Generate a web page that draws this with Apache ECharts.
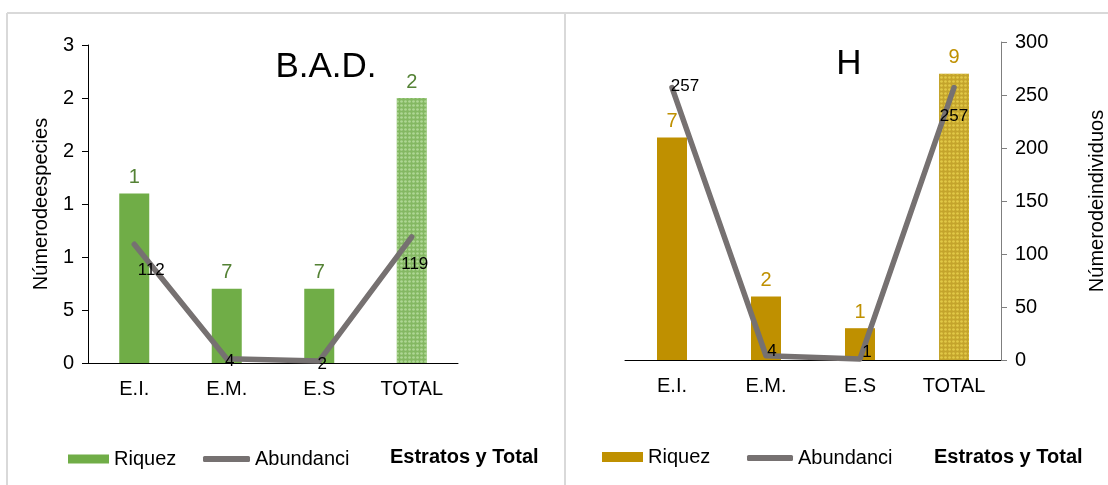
<!DOCTYPE html>
<html>
<head>
<meta charset="utf-8">
<script src="https://cdn.jsdelivr.net/npm/echarts@6/dist/echarts.min.js"></script>
<style>
html,body{margin:0;padding:0;background:#fff;}
#chart{width:1108px;height:485px;}
</style>
</head>
<body>
<div id="chart"></div>
<script>
// ---- data ----
const categories = ['E.I.', 'E.M.', 'E.S', 'TOTAL'];
const riquezaBAD = [16, 7, 7, 25];
const riquezaBADLabels = ['1', '7', '7', '2'];
const abundanciaBAD = [112, 4, 2, 119];
const riquezaH = [7, 2, 1, 9];
const riquezaHLabels = ['7', '2', '1', '9'];
const abundanciaH = [257, 4, 1, 257];
const ticksBAD = ['0', '5', '1', '1', '2', '2', '3'];
const titleBAD = 'B.A.D.';
const titleH = 'H';
const nameLeft = 'Númerodeespecies';
const nameRight = 'Númerodeindividuos';
const xName = 'Estratos y Total';

// ---- styles (kept separate from data) ----
const FONT = '"Liberation Sans", Arial, sans-serif';
const GREEN = '#70ad47', GREEN_LBL = '#548235';
const GOLD = '#bf9000', GOLD_LBL = '#bf9000';
const LINE = '#767171';
const offBAD = [[17, 26], [3, 3], [3, 3], [3, 27]];
const offH = [[13, -1], [6, -4], [7, -7], [0, 29]];

const totalDecal = (c) => ({
  symbol: 'circle', symbolSize: 0.9, color: c,
  dashArrayX: [3, 1], dashArrayY: [3, 1], rotation: 0
});

function barData(vals, totalColor, decalColor) {
  return vals.map((v, i) => i === vals.length - 1
    ? { value: v, itemStyle: { color: totalColor, decal: totalDecal(decalColor) } }
    : v);
}
function lineData(vals, offs) {
  return vals.map((v, i) => ({ value: v, label: { offset: offs[i] } }));
}

const chart = echarts.init(document.getElementById('chart'), null, { renderer: 'canvas' });

const axisLbl = { fontFamily: FONT, fontSize: 20, color: '#000' };

const option = {
  backgroundColor: '#fff',
  animation: false,
  textStyle: { fontFamily: FONT },
  title: [
    { text: titleBAD, left: 321, top: 45, textAlign: 'center',
      textStyle: { fontFamily: FONT, fontSize: 35, fontWeight: 'normal', color: '#000' } },
    { text: titleH, left: 844, top: 42, textAlign: 'center',
      textStyle: { fontFamily: FONT, fontSize: 35, fontWeight: 'normal', color: '#000' } },
    { text: xName, left: 385, top: 442,
      textStyle: { fontFamily: FONT, fontSize: 20, fontWeight: 'bold', color: '#000' } },
    { text: xName, left: 929, top: 442,
      textStyle: { fontFamily: FONT, fontSize: 20, fontWeight: 'bold', color: '#000' } }
  ],
  legend: [
    { left: 63, top: 444, itemWidth: 41, itemHeight: 9, selectedMode: false,
      textStyle: { fontFamily: FONT, fontSize: 20, color: '#000' },
      data: [{ name: 'Riquez', icon: 'rect', itemStyle: { color: GREEN } }] },
    { left: 198, top: 444, itemWidth: 47, itemHeight: 6, selectedMode: false,
      textStyle: { fontFamily: FONT, fontSize: 20, color: '#000' },
      data: [{ name: 'Abundanci', icon: 'roundRect', itemStyle: { color: LINE } }] },
    { left: 597, top: 442, itemWidth: 41, itemHeight: 10, selectedMode: false,
      textStyle: { fontFamily: FONT, fontSize: 20, color: '#000' },
      data: [{ name: 'Riquez', icon: 'rect', itemStyle: { color: GOLD } }] },
    { left: 742, top: 443, itemWidth: 46, itemHeight: 6, selectedMode: false,
      textStyle: { fontFamily: FONT, fontSize: 20, color: '#000' },
      data: [{ name: 'Abundanci', icon: 'roundRect', itemStyle: { color: LINE } }] }
  ],
  grid: [
    { left: 88, top: 45, width: 370, height: 318 },
    { left: 625, top: 42, width: 378, height: 318 }
  ],
  xAxis: [
    { type: 'category', gridIndex: 0, data: categories,
      axisLine: { lineStyle: { color: '#000', width: 1 } },
      axisTick: { length: 6, lineStyle: { color: '#000' } },
      axisLabel: Object.assign({ margin: 16 }, axisLbl) },
    { type: 'category', gridIndex: 1, data: categories,
      axisLine: { lineStyle: { color: '#000', width: 1 } },
      axisTick: { length: 6, lineStyle: { color: '#000' } },
      axisLabel: Object.assign({ margin: 16 }, axisLbl) }
  ],
  yAxis: [
    { type: 'value', gridIndex: 0, min: 0, max: 30, interval: 5, position: 'left',
      name: nameLeft, nameLocation: 'middle', nameGap: 37, nameRotate: 90,
      nameTextStyle: { fontFamily: FONT, fontSize: 20, color: '#000' },
      axisLine: { show: true, lineStyle: { color: '#000' } },
      axisTick: { show: true, length: 6, lineStyle: { color: '#000' } },
      splitLine: { show: false },
      axisLabel: Object.assign({ margin: 14, formatter: (v) => ticksBAD[Math.round(v / 5)] }, axisLbl) },
    { type: 'value', gridIndex: 0, min: 0, max: 300, show: false, position: 'right',
      splitLine: { show: false } },
    { type: 'value', gridIndex: 1, min: 0, max: 10, show: false, position: 'left',
      splitLine: { show: false } },
    { type: 'value', gridIndex: 1, min: 0, max: 300, interval: 50, position: 'right',
      name: nameRight, nameLocation: 'middle', nameGap: 86, nameRotate: 90,
      nameTextStyle: { fontFamily: FONT, fontSize: 20, color: '#000' },
      axisLine: { show: true, lineStyle: { color: '#7f7f7f' } },
      axisTick: { show: true, length: 6, lineStyle: { color: '#7f7f7f' } },
      splitLine: { show: false },
      axisLabel: Object.assign({ margin: 14 }, axisLbl) }
  ],
  series: [
    { name: 'Riquez', type: 'bar', xAxisIndex: 0, yAxisIndex: 0, barWidth: 30,
      itemStyle: { color: GREEN },
      data: barData(riquezaBAD, '#84b862', 'rgba(210,238,190,0.55)'),
      label: { show: true, position: 'top', distance: 6, fontFamily: FONT, fontSize: 20,
        color: GREEN_LBL, formatter: (p) => riquezaBADLabels[p.dataIndex] } },
    { name: 'Abundanci', type: 'line', xAxisIndex: 0, yAxisIndex: 1,
      symbol: 'circle', symbolSize: 1, itemStyle: { color: LINE },
      lineStyle: { color: LINE, width: 5.5, cap: 'round', join: 'round' },
      z: 5,
      data: lineData(abundanciaBAD, offBAD),
      label: { show: true, position: 'inside', fontFamily: FONT, fontSize: 17, color: '#000' } },
    { name: 'Riquez', type: 'bar', xAxisIndex: 1, yAxisIndex: 2, barWidth: 30,
      itemStyle: { color: GOLD },
      data: barData(riquezaH, '#c4a42c', 'rgba(245,225,90,0.6)'),
      label: { show: true, position: 'top', distance: 6, fontFamily: FONT, fontSize: 20,
        color: GOLD_LBL, formatter: (p) => riquezaHLabels[p.dataIndex] } },
    { name: 'Abundanci', type: 'line', xAxisIndex: 1, yAxisIndex: 3,
      symbol: 'circle', symbolSize: 1, itemStyle: { color: LINE },
      lineStyle: { color: LINE, width: 5.5, cap: 'round', join: 'round' },
      z: 5,
      data: lineData(abundanciaH, offH),
      label: { show: true, position: 'inside', fontFamily: FONT, fontSize: 17, color: '#000' } }
  ],
  graphic: [
    { type: 'line', shape: { x1: 7, y1: 13, x2: 1108, y2: 13 }, style: { stroke: '#d9d9d9', lineWidth: 2 }, silent: true },
    { type: 'line', shape: { x1: 7, y1: 13, x2: 7, y2: 485 }, style: { stroke: '#d9d9d9', lineWidth: 2 }, silent: true },
    { type: 'line', shape: { x1: 565, y1: 13, x2: 565, y2: 485 }, style: { stroke: '#d9d9d9', lineWidth: 2 }, silent: true }
  ]
};
chart.setOption(option);
</script>
</body>
</html>
